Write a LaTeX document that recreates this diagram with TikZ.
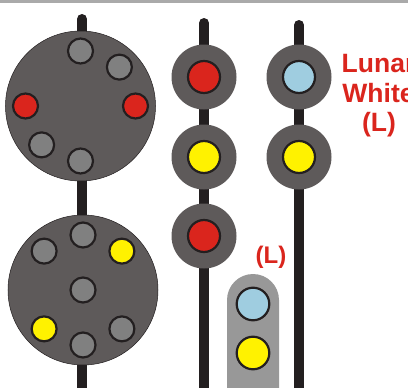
\documentclass[tikz,border=0pt]{standalone}
\usepackage{fontspec}
\newfontfamily\signfont{Liberation Sans}
\definecolor{headgray}{RGB}{94,90,90}
\definecolor{lampgray}{RGB}{128,128,128}
\definecolor{boxgray}{RGB}{152,152,152}
\definecolor{poleblack}{RGB}{35,31,32}
\definecolor{sigred}{RGB}{218,37,29}
\definecolor{sigyellow}{RGB}{255,242,0}
\definecolor{lunarblue}{RGB}{159,205,224}
\definecolor{framegray}{RGB}{170,170,170}

\begin{document}
\begin{tikzpicture}[x=1pt, y=-1pt,
  pole/.style={line width=10pt, draw=poleblack, line cap=round},
  disc/.style={fill=headgray, draw=poleblack, line width=0.5pt},
  head/.style={fill=headgray},
  lamp/.style={draw=poleblack, line width=2.2pt},
  sign/.style={text=sigred, font=\signfont\bfseries\fontsize{26.5}{30}\selectfont, inner sep=0pt, anchor=base}]
\useasboundingbox (0,0) rectangle (408,388);
\clip (0,0) rectangle (408,388);
\fill[framegray] (0,0) rectangle (408,3);
\draw[pole] (82,19) -- (82,400);
\draw[pole] (204,23) -- (204,400);
\draw[pole] (299,25) -- (299,400);
\filldraw[disc] (80.5,106) circle (75pt);
\filldraw[disc] (83,290) circle (75pt);
\begin{scope}[shift={(80.5,106)}]
\filldraw[lamp, fill=lampgray] (90:55pt) circle (12.5pt);
\filldraw[lamp, fill=lampgray] (45:55pt) circle (12.5pt);
\filldraw[lamp, fill=sigred] (180:55pt) circle (12.5pt);
\filldraw[lamp, fill=sigred] (0:55pt) circle (12.5pt);
\filldraw[lamp, fill=lampgray] (225:55pt) circle (12.5pt);
\filldraw[lamp, fill=lampgray] (270:55pt) circle (12.5pt);
\end{scope}
\begin{scope}[shift={(83,290)}]
\filldraw[lamp, fill=lampgray] (90:55pt) circle (12.5pt);
\filldraw[lamp, fill=lampgray] (135:55pt) circle (12.5pt);
\filldraw[lamp, fill=sigyellow] (45:55pt) circle (12.5pt);
\filldraw[lamp, fill=lampgray] (0,0) circle (12.5pt);
\filldraw[lamp, fill=sigyellow] (225:55pt) circle (12.5pt);
\filldraw[lamp, fill=lampgray] (270:55pt) circle (12.5pt);
\filldraw[lamp, fill=lampgray] (315:55pt) circle (12.5pt);
\end{scope}
\fill[head] (204,77) circle (32.5pt);
\fill[head] (204,157) circle (32.5pt);
\fill[head] (204,236) circle (32.5pt);
\filldraw[lamp, fill=sigred] (204,77) circle (16pt);
\filldraw[lamp, fill=sigyellow] (204,157) circle (16pt);
\filldraw[lamp, fill=sigred] (204,236) circle (16pt);
\fill[head] (299,77) circle (32.5pt);
\fill[head] (299,157) circle (32.5pt);
\filldraw[lamp, fill=lunarblue] (299,77) circle (16pt);
\filldraw[lamp, fill=sigyellow] (299,157) circle (16pt);
\fill[boxgray] (227,400) -- (227,300) arc[start angle=180, end angle=0, radius=26pt] -- (279,400) -- cycle;
\filldraw[lamp, fill=lunarblue] (253,304) circle (16.3pt);
\filldraw[lamp, fill=sigyellow] (253,353) circle (16.3pt);
\node[sign] (lunar) at (378.5,73) {Lunar};
\node[sign] (white) at (378.5,102.3) {White};
\node[sign] (headl) at (379,131.7) {(L)};
\node[sign, font=\signfont\bfseries\fontsize{24}{28}\selectfont] (boxl) at (271,263) {(L)};
\end{tikzpicture}
\end{document}
